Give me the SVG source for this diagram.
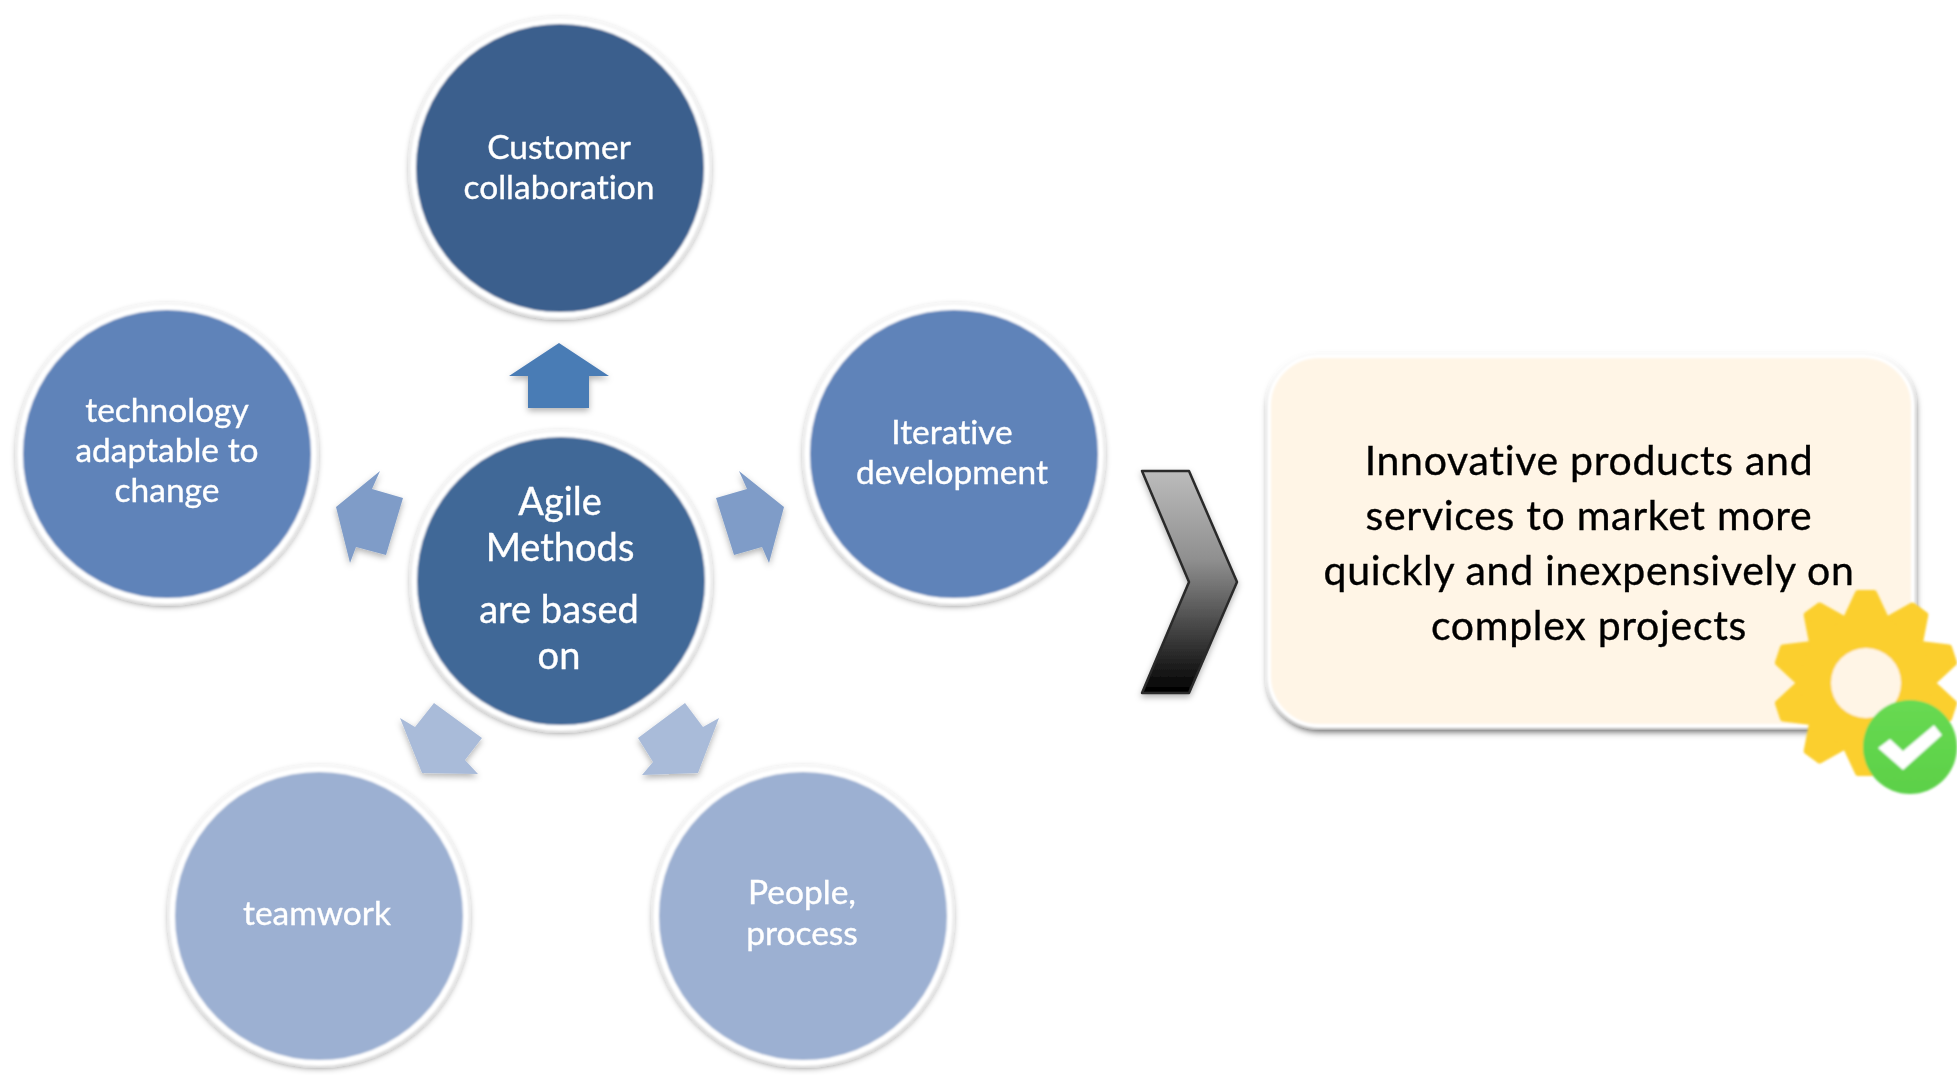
<svg xmlns="http://www.w3.org/2000/svg" xmlns:xlink="http://www.w3.org/1999/xlink" width="1957" height="1075" viewBox="0 0 1957 1075">
<style>
.ring{stroke:#fff;stroke-width:6;filter:url(#sh)}
.t{font-family:Lato,"Open Sans",sans-serif;fill:#fff;stroke:#fff;stroke-width:.35px;text-anchor:middle;font-size:33.5px;font-variant-ligatures:none;filter:url(#soft)}
.c{font-size:38px}
.b{fill:#000;stroke:#000;font-size:41px;letter-spacing:.7px}
.a{filter:url(#sh2)}
</style>
<defs>
<filter id="sh" x="-10%" y="-10%" width="120%" height="120%"><feGaussianBlur in="SourceGraphic" stdDeviation=".8" result="g"/><feDropShadow in="g" dx="0" dy="2" stdDeviation="3" flood-color="#000" flood-opacity=".45"/></filter>
<filter id="shb" x="-10%" y="-10%" width="120%" height="120%"><feGaussianBlur in="SourceGraphic" stdDeviation=".8" result="g"/><feDropShadow in="g" dx="1" dy="4" stdDeviation="3" flood-color="#000" flood-opacity=".6"/></filter>
<filter id="sh2" x="-20%" y="-20%" width="140%" height="140%"><feGaussianBlur in="SourceGraphic" stdDeviation=".7" result="g"/><feDropShadow in="g" dx="0" dy="3" stdDeviation="3" flood-color="#000" flood-opacity=".3"/></filter>
<filter id="soft"><feGaussianBlur stdDeviation=".5"/></filter>
<filter id="gs" x="-10%" y="-10%" width="120%" height="120%"><feGaussianBlur stdDeviation=".8"/></filter>
<linearGradient id="chev" x1="0" y1="0" x2="0" y2="1"><stop offset="0" stop-color="#bcbcbc"/><stop offset=".4" stop-color="#8f8f8f"/><stop offset="1" stop-color="#000"/></linearGradient>
<linearGradient id="grn" x1="0" y1="0" x2="0" y2="1"><stop offset="0" stop-color="#68da52"/><stop offset="1" stop-color="#5cd048"/></linearGradient>
<polygon id="tooth" points="-22,-60 -8,-90 8,-90 22,-60" fill="#fbcf2e" stroke="#fbcf2e" stroke-width="6" stroke-linejoin="round"/>
</defs>

<g id="connectors">
<polygon class="a" fill="#4a7bb5" points="559,343 609,376 589,376 589,408 528,408 528,376 509,376"/>
<polygon class="a" fill="#7f9cc8" points="716,498 747,489 739,471 784,507 769,563 762,547 734,555"/>
<polygon class="a" fill="#7f9cc8" points="403,498 372,489 380,471 336,507 350,563 356,547 386,555"/>
<polygon class="a" fill="#a9bbd9" points="434,703 482,738 465,760 478,774 422,773 400,718 415,727"/>
<polygon class="a" fill="#a9bbd9" points="685,703 638,738 653,762 642,775 698,773 719,718 703,727"/>
</g>

<g id="node-customer"><circle class="ring" cx="560" cy="168" r="147" fill="#3a5f8d"/><text class="t" x="559" y="159">Customer</text><text class="t" x="559" y="199">collaboration</text></g>
<g id="node-technology"><circle class="ring" cx="167" cy="454" r="147" fill="#5f83b9"/><text class="t" x="167" y="422">technology</text><text class="t" x="167" y="462">adaptable to</text><text class="t" x="167" y="502">change</text></g>
<g id="node-iterative"><circle class="ring" cx="954" cy="454" r="147" fill="#5f83b9"/><text class="t" x="952" y="444">Iterative</text><text class="t" x="952" y="484">development</text></g>
<g id="node-teamwork"><circle class="ring" cx="319" cy="916" r="147" fill="#9cb0d2"/><text class="t" x="317" y="925">teamwork</text></g>
<g id="node-people"><circle class="ring" cx="803" cy="916" r="147" fill="#9cb0d2"/><text class="t" x="802" y="904">People,</text><text class="t" x="802" y="945">process</text></g>
<g id="node-center"><circle class="ring" cx="561" cy="581" r="147" fill="#3f6797"/><text class="t c" x="560" y="515">Agile</text><text class="t c" x="560" y="561">Methods</text><text class="t c" x="559" y="623">are based</text><text class="t c" x="559" y="669">on</text></g>

<g id="node-chevron"><polygon points="1142,471 1189,471 1237,582 1189,693 1142,693 1189,582" fill="url(#chev)" stroke="#2a2a2a" stroke-width="2.5" stroke-linejoin="round" filter="url(#sh2)"/></g>

<g id="node-result"><rect x="1269" y="356" width="644" height="370" rx="50" fill="#fff5e6" stroke="#fff" stroke-width="4" filter="url(#shb)"/>
<text class="t b" x="1589" y="475">Innovative products and</text><text class="t b" x="1589" y="530">services to market more</text><text class="t b" x="1589" y="585">quickly and inexpensively on</text><text class="t b" x="1589" y="640">complex projects</text></g>

<g id="node-gear" filter="url(#gs)">
<g transform="translate(1866,683)">
<use xlink:href="#tooth"/><use xlink:href="#tooth" transform="rotate(36)"/><use xlink:href="#tooth" transform="rotate(72)"/><use xlink:href="#tooth" transform="rotate(108)"/><use xlink:href="#tooth" transform="rotate(144)"/><use xlink:href="#tooth" transform="rotate(180)"/><use xlink:href="#tooth" transform="rotate(216)"/><use xlink:href="#tooth" transform="rotate(252)"/><use xlink:href="#tooth" transform="rotate(288)"/><use xlink:href="#tooth" transform="rotate(324)"/>
<circle r="66" fill="#fbcf2e"/><circle r="35" fill="#fff5e6"/>
</g>
<circle cx="1910" cy="747" r="47" fill="url(#grn)"/>
<polygon points="1878,748 1890,739 1903,751 1934,725 1942,735 1903,770" fill="#fff"/>
</g>
</svg>
